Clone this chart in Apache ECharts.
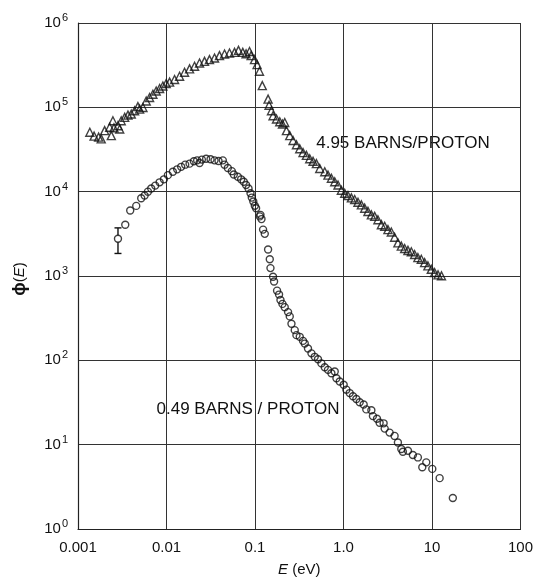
<!DOCTYPE html>
<html>
<head>
<meta charset="utf-8">
<script src="https://cdn.jsdelivr.net/npm/echarts@6/dist/echarts.min.js"></script>
<style>
html,body{margin:0;padding:0;background:#fff;}
#chart{width:536px;height:582px;}
</style>
</head>
<body>
<div id="chart"></div>
<script>
// ---- data ----
const xTickLabels = ['0.001', '0.01', '0.1', '1.0', '10', '100'];
const yTickExps = [0, 1, 2, 3, 4, 5, 6];

// 4.95 barns/proton (triangles)
const triE = [0.00136,0.00152,0.00171,0.00183,0.0020,0.00228,0.00238,0.00248,0.00255,0.00283,
  0.00296,0.00308,0.00337,0.00367,0.0040,0.00436,0.00475,0.00497,0.00542,0.0059,
  0.00644,0.00702,0.00765,0.00836,0.0091,0.00992,0.01084,0.01234,0.01406,0.016,
  0.01823,0.02076,0.02363,0.0269,0.0306,0.0349,0.0397,0.0453,0.0515,0.0587,
  0.0651,0.0728,0.0793,0.0867,0.0904,0.0987,0.1056,0.1124,0.1209,0.1406,
  0.1442,0.1535,0.16,0.175,0.1905,0.2043,0.2168,0.2267,0.247,0.2692,
  0.294,0.3204,0.349,0.381,0.4155,0.453,0.494,0.539,0.614,0.668,
  0.730,0.796,0.867,0.946,1.032,1.124,1.228,1.338,1.458,1.592,
  1.735,1.89,2.065,2.25,2.45,2.68,2.92,3.18,3.47,3.78,
  4.12,4.50,4.91,5.35,5.84,6.36,6.93,7.57,8.25,8.99,
  9.82,10.7,11.7,12.8];
const triPhi = [50700,45500,44300,42300,53000,58000,46200,69300,57000,60600,
  55400,69300,76000,80900,83200,91000,102000,95200,99700,119000,
  131000,143000,156000,167000,179000,192000,199000,214000,234000,261000,
  286000,307000,336000,351000,368000,385000,410000,429000,441000,448000,
  473000,448000,432000,460000,410000,368000,321000,268000,181000,125000,
  106000,91000,79400,72600,67500,63500,66000,53000,46200,40400,
  36000,32300,29000,26900,24600,22900,21500,18800,17200,15700,
  14400,13100,12000,10400,9560,8990,8450,8070,7500,6970,
  6370,5830,5310,5090,4650,4060,3890,3550,3330,2880,
  2470,2260,2120,2010,1940,1800,1650,1580,1440,1320,
  1200,1100,1030,1005];

// 0.49 barns/proton (circles)
const circE = [0.00283,
  0.00342,0.00389,0.00455,0.00518,0.00566,0.00617,0.00672,0.00746,0.00836,0.00935,
  0.01037,0.0118,0.0132,0.01465,0.01626,0.01823,0.02038,0.0222,0.02363,0.0251,
  0.02805,0.03146,0.0349,0.0387,0.0433,0.0453,0.0493,0.0547,0.0576,0.064,
  0.0697,0.0747,0.0793,0.0845,0.089,0.092,0.0957,0.0995,0.1029,0.1133,
  0.1153,0.1184,0.1234,0.129,0.1406,0.1469,0.1496,0.16,0.1643,0.1776,
  0.187,0.194,0.2043,0.2168,0.2364,0.247,0.2583,0.2813,0.294,0.3204,
  0.349,0.365,0.397,0.4345,0.473,0.515,0.563,0.614,0.668,0.730,
  0.796,0.832,0.906,1.005,1.078,1.175,1.28,1.398,1.524,1.69,
  1.81,2.065,2.15,2.39,2.56,2.84,2.92,3.32,3.78,4.12,
  4.50,4.69,5.35,6.08,6.93,7.77,8.62,10.08,12.2,17.2];
const circPhi = [2760,
  4060,5990,6780,8350,8990,10000,10900,11800,12900,14000,
  15700,17200,18400,19700,20900,21500,22900,23500,21900,24000,
  24600,24200,23500,23100,23500,20900,19100,17500,16000,15000,
  14000,13100,12000,10900,9560,8510,7640,6820,6370,5090,
  5310,4730,3550,3160,2060,1580,1240,980,861,670,
  602,520,467,427,373,332,272,228,199,190,
  170,158,138,121,110,103,92,82.7,77.1,70.3,
  73.6,61.4,56.2,51.4,44.9,40.9,37.5,34.8,31.8,29.9,
  26.2,25.6,21.8,20.3,18.2,17.9,15.5,13.9,12.7,10.6,
  8.87,8.24,8.47,7.54,7.06,5.39,6.17,5.16,4.01,2.33];

// error bar on the lowest-energy circle
const errE = [0.00283];
const errLow = [1850];
const errHigh = [3720];

const seriesLabels = ['4.95 BARNS/PROTON', '0.49 BARNS / PROTON'];

// ---- chart ----
const FONT = '"Liberation Sans", Arial, Helvetica, sans-serif';
const INK = '#111';

const triData = triE.map((e, i) => [e, triPhi[i]]);
const circData = circE.map((e, i) => [e, circPhi[i]]);
const errData = errE.map((e, i) => [e, errLow[i], errHigh[i]]);

const chart = echarts.init(document.getElementById('chart'), null, {renderer: 'canvas'});
chart.setOption({
  backgroundColor: '#fff',
  animation: false,
  grid: {left: 78, right: 15, top: 23, bottom: 48, containLabel: false},
  xAxis: {
    type: 'log', logBase: 10, min: 0.001, max: 100, splitNumber: 5,
    axisLine: {show: true, onZero: false, lineStyle: {color: '#222', width: 1.2}},
    axisTick: {show: false},
    minorTick: {show: false},
    splitLine: {show: true, lineStyle: {color: '#333', width: 1}},
    axisLabel: {
      margin: 11, color: INK, fontFamily: FONT, fontSize: 15,
      formatter: v => xTickLabels[Math.round(Math.log10(v)) + 3]
    },
    name: '{i|E} (eV)', nameLocation: 'middle', nameGap: 33,
    nameTextStyle: {color: INK, fontFamily: FONT, fontSize: 15,
      rich: {i: {fontStyle: 'italic', fontFamily: FONT, fontSize: 15, color: INK}}}
  },
  yAxis: {
    type: 'log', logBase: 10, min: 1, max: 1e6, splitNumber: 6,
    axisLine: {show: true, onZero: false, lineStyle: {color: '#222', width: 1.2}},
    axisTick: {show: false},
    minorTick: {show: false},
    splitLine: {show: true, lineStyle: {color: '#333', width: 1}},
    axisLabel: {
      margin: 10, color: INK, fontFamily: FONT,
      formatter: v => '{b|10}{s|' + yTickExps[Math.round(Math.log10(v))] + '}',
      rich: {
        b: {fontSize: 15, lineHeight: 16, fontFamily: FONT, color: INK},
        s: {fontSize: 11, lineHeight: 11, padding: [0, 0, 10, 1], fontFamily: FONT, color: INK}
      }
    }
  },
  graphic: [
    {type: 'text', x: 20, y: 279, rotation: Math.PI / 2,
      style: {text: '{p|ϕ}({i|E})', align: 'center', verticalAlign: 'middle', fill: INK,
        font: '15px ' + FONT,
        rich: {p: {fontSize: 18, fontWeight: 'bold', fontFamily: FONT, fill: INK}, i: {fontStyle: 'italic', fontSize: 15, fontFamily: FONT, fill: INK}}}},
    {type: 'text', x: 403, y: 143,
      style: {text: seriesLabels[0], align: 'center', verticalAlign: 'middle', fill: INK, font: '17px ' + FONT}},
    {type: 'text', x: 248, y: 409,
      style: {text: seriesLabels[1], align: 'center', verticalAlign: 'middle', fill: INK, font: '17px ' + FONT}}
  ],
  series: [
    {
      name: seriesLabels[0], type: 'scatter', data: triData,
      symbol: 'triangle', symbolSize: 8,
      itemStyle: {color: 'rgba(0,0,0,0)', borderColor: INK, borderWidth: 1.4}
    },
    {
      name: seriesLabels[1], type: 'scatter', data: circData,
      symbol: 'circle', symbolSize: 7,
      itemStyle: {color: 'rgba(0,0,0,0)', borderColor: INK, borderWidth: 1.4}
    },
    {
      type: 'custom', data: errData, encode: {x: 0, y: [1, 2]},
      renderItem: (params, api) => {
        const x = api.value(0);
        const lo = api.coord([x, api.value(1)]);
        const hi = api.coord([x, api.value(2)]);
        const c = api.coord([x, circPhi[0]]);
        const st = {stroke: INK, lineWidth: 1.4};
        const r = 3.5;
        return {type: 'group', children: [
          {type: 'line', shape: {x1: lo[0], y1: lo[1], x2: lo[0], y2: c[1] + r}, style: st},
          {type: 'line', shape: {x1: hi[0], y1: c[1] - r, x2: hi[0], y2: hi[1]}, style: st},
          {type: 'line', shape: {x1: lo[0] - 3.5, y1: lo[1], x2: lo[0] + 3.5, y2: lo[1]}, style: st},
          {type: 'line', shape: {x1: hi[0] - 3.5, y1: hi[1], x2: hi[0] + 3.5, y2: hi[1]}, style: st}
        ]};
      }
    }
  ]
});
</script>
</body>
</html>
